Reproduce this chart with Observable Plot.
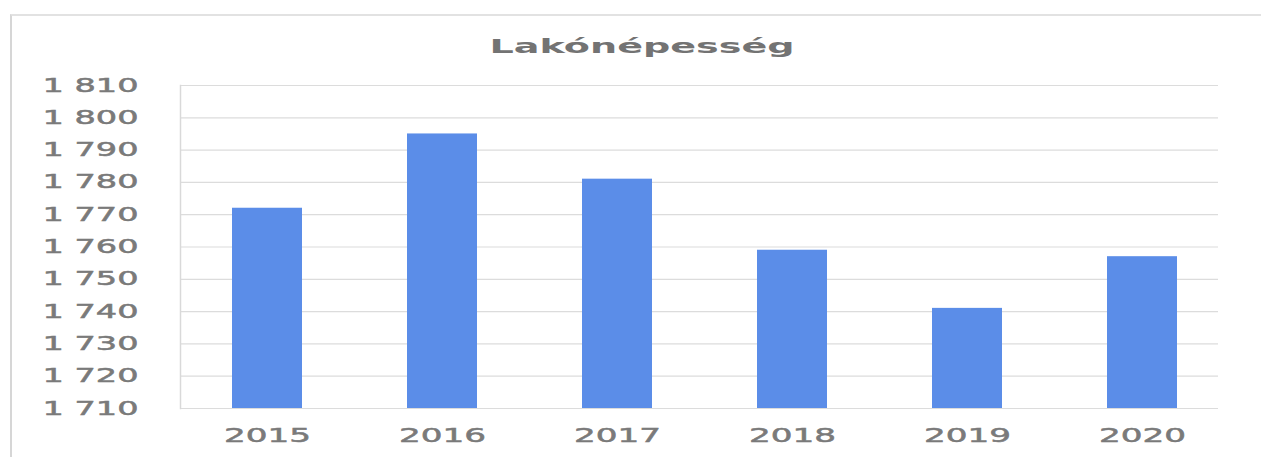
<!DOCTYPE html>
<html>
<head>
<meta charset="utf-8">
<script src="https://cdn.jsdelivr.net/npm/d3@7"></script>
<script src="https://cdn.jsdelivr.net/npm/@observablehq/plot@0.6"></script>
<style>
  html, body { margin: 0; padding: 0; background: #fff; }
  #wrap { position: relative; width: 1261px; height: 457px; overflow: hidden; font-family: "DejaVu Sans", sans-serif; }
  #frame { position: absolute; left: 10px; top: 14px; right: -5px; bottom: -5px; border-left: 2px solid #d6d6d6; border-top: 2px solid #e2e2e2; }
  #title { position: absolute; left: 0; top: 0; width: 1261px; height: 70px; text-align: center; }
  #title span { display: inline-block; position: absolute; font-weight: bold; font-size: 19px; color: #737373; white-space: nowrap; }
  #chart { position: absolute; left: 0; top: 70px; }
  #chart g[aria-label$="tick label"] text { stroke: #7a7a7a; stroke-width: 0.5px; }
</style>
</head>
<body>
<div id="wrap">
  <div id="frame"></div>
  <div id="title"><span id="titleText">Lakónépesség</span></div>
  <div id="chart"></div>
</div>
<script>
const years = ["2015", "2016", "2017", "2018", "2019", "2020"];
const population = [1772, 1795, 1781, 1759, 1741, 1757];
const yTicks = [1710, 1720, 1730, 1740, 1750, 1760, 1770, 1780, 1790, 1800, 1810];

const data = years.map((y, i) => ({year: y, value: population[i]}));
const fmt = d3.formatLocale({thousands: " ", grouping: [3], decimal: ","}).format(",d");

const svg = Plot.plot({
  width: 1261,
  height: 387,
  marginTop: 15,
  marginBottom: 49,
  marginLeft: 180,
  marginRight: 43,
  style: {fontFamily: "DejaVu Sans, sans-serif", fontSize: "19px", color: "#7a7a7a", background: "transparent"},
  x: {domain: years, paddingInner: 0.6, paddingOuter: 0.265, align: 0.56, label: null},
  y: {domain: [1710, 1810], label: null},
  marks: [
    Plot.gridY(yTicks, {stroke: "#dcdcdc", strokeOpacity: 1, strokeWidth: 1.2}),
    Plot.frame({anchor: "left", stroke: "#d9d9d9", strokeWidth: 1.5}),
    Plot.barY(data, {x: "year", y1: 1710, y2: "value", fill: "#5b8de8"}),
    Plot.axisY(yTicks, {tickSize: 0, tickPadding: 42, tickFormat: fmt, fill: "#7a7a7a", fontSize: 19}),
    Plot.axisX({tickSize: 0, tickPadding: 20, fill: "#7a7a7a", fontSize: 19})
  ]
});
document.getElementById("chart").append(svg);

function stretch(selector, target) {
  svg.querySelectorAll(selector).forEach(t => {
    t.setAttribute("textLength", target);
    t.setAttribute("lengthAdjust", "spacingAndGlyphs");
  });
}
stretch('g[aria-label="y-axis tick label"] text', 96);
stretch('g[aria-label="x-axis tick label"] text', 87);

// title: stretch horizontally to match the reference
const tt = document.getElementById("titleText");
const tw = tt.getBoundingClientRect().width;
const sx = 305 / tw;
tt.style.transformOrigin = "center center";
tt.style.transform = `scaleX(${sx})`;
tt.style.left = (642 - tw / 2) + "px";
tt.style.top = "35px";
</script>
</body>
</html>
